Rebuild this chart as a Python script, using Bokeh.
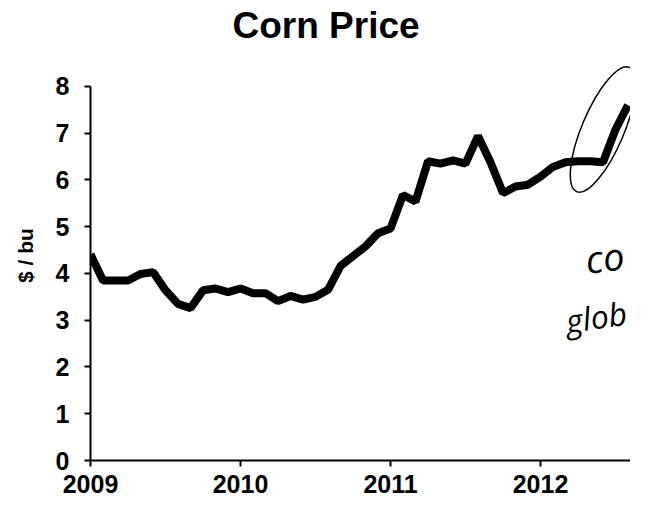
from bokeh.plotting import figure
from bokeh.models import Range1d, FixedTicker, ColumnDataSource
from bokeh.core.properties import value
from bokeh.embed import file_html
from bokeh.resources import INLINE

# Monthly corn price, $/bu, Jan 2009 .. Aug 2012
start_year = 2009
prices = [4.41, 3.85, 3.85, 3.85, 3.99, 4.03, 3.64, 3.35, 3.26, 3.64, 3.68, 3.60,
          3.68, 3.58, 3.58, 3.41, 3.52, 3.44, 3.50, 3.65, 4.16, 4.37, 4.58, 4.86,
          4.96, 5.68, 5.54, 6.40, 6.35, 6.42, 6.35, 6.94, 6.38, 5.72, 5.86, 5.90,
          6.07, 6.28, 6.38, 6.40, 6.40, 6.38, 7.08, 7.60]
months = [start_year + i / 12 for i in range(len(prices))]

year_ticks = [2009, 2010, 2011, 2012]
year_labels = ["2009", "2010", "2011", "2012"]
y_ticks = [0, 1, 2, 3, 4, 5, 6, 7, 8]

title_text = "Corn Price"
y_label = "$ / bu"
note_texts = ["co", "glob"]

FONT = "Liberation Sans"

p = figure(frame_width=540, frame_height=410,
           x_range=Range1d(2009, 2012.60), y_range=Range1d(0, 8.77),
           output_backend="svg", toolbar_location=None,
           min_border_left=90, min_border_right=0, min_border_top=50,
           min_border_bottom=48, background_fill_color="white",
           border_fill_color="white")

p.title.text = title_text
p.title.align = "left"
p.title.offset = 142
p.title.vertical_align = "top"
p.title.standoff = 6
p.title.text_font = FONT
p.title.text_font_size = "37px"
p.title.text_font_style = "bold"
p.title.text_color = "black"

p.outline_line_color = None
p.xgrid.visible = False
p.ygrid.visible = False

for ax in (p.xaxis[0], p.yaxis[0]):
    ax.axis_line_width = 2
    ax.axis_line_color = "black"
    ax.major_tick_in = 0
    ax.major_tick_out = 6
    ax.major_tick_line_width = 2
    ax.major_tick_line_color = "black"
    ax.minor_tick_line_color = None
    ax.major_label_text_font = FONT
    ax.major_label_text_font_size = "25px"
    ax.major_label_text_font_style = "bold"
    ax.major_label_text_color = "black"

p.xaxis.ticker = FixedTicker(ticks=year_ticks)
p.xaxis.major_label_overrides = dict(zip(year_ticks, year_labels))
p.xaxis.major_label_standoff = 8

p.yaxis.ticker = FixedTicker(ticks=y_ticks)
p.yaxis.bounds = (y_ticks[0], y_ticks[-1])
p.yaxis.major_label_standoff = 15
p.yaxis.axis_label = y_label
p.yaxis.axis_label_text_font = FONT
p.yaxis.axis_label_text_font_size = "21px"
p.yaxis.axis_label_text_font_style = "bold"
p.yaxis.axis_label_text_color = "black"
p.yaxis.axis_label_standoff = 16

p.line(months, prices, line_width=8, line_color="black")

# hand-drawn circle around the last jump
p.ellipse(x=[months[-3]], y=[prices[-2]], width=[135], height=[42], angle=[1.17],
          width_units="screen", height_units="screen",
          fill_color=None, line_color="black", line_width=1.5)

notes = ColumnDataSource(dict(x=[2012.30, 2012.17], y=[4.31, 2.98],
                              t=note_texts, a=[0.12, 0.15],
                              s=["38px", "32px"]))
p.text(x="x", y="y", text="t", angle="a", source=notes,
       text_font=value("Open Sans"), text_font_style="italic",
       text_font_size="s", text_color="black",
       text_align="left", text_baseline="alphabetic")

open("out.html", "w").write(file_html(p, INLINE))
